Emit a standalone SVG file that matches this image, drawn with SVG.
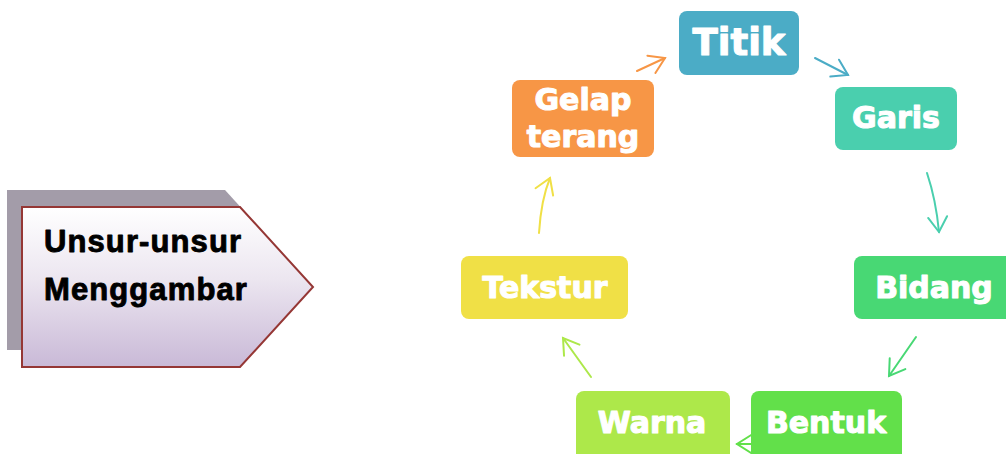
<svg xmlns="http://www.w3.org/2000/svg" width="1006" height="454" viewBox="0 0 1006 454">
<style>
.node text{font-family:"DejaVu Sans",Verdana,sans-serif;font-weight:bold;fill:#fff;stroke:#fff;stroke-width:1.1px;stroke-linejoin:round;text-anchor:middle}
.title{font-family:"Liberation Sans",Arial,sans-serif;font-weight:bold;font-size:31px;letter-spacing:1.1px;fill:#000;stroke:#000;stroke-width:0.9px;stroke-linejoin:round}
.conn path{fill:none;stroke-width:2;stroke-linecap:round}
</style>
<defs>
<linearGradient id="pg" x1="0" y1="0" x2="0" y2="1">
<stop offset="0" stop-color="#ffffff"/>
<stop offset="0.45" stop-color="#ece6f0"/>
<stop offset="1" stop-color="#c9b9d7"/>
</linearGradient>
<marker id="mO" markerUnits="userSpaceOnUse" orient="auto" overflow="visible"><path d="M-15,-9.5 L0,0 L-15,9.5" fill="none" stroke="#f79646" stroke-width="2" stroke-linecap="round"/></marker>
<marker id="mB" markerUnits="userSpaceOnUse" orient="auto" overflow="visible"><path d="M-15,-9.5 L0,0 L-15,9.5" fill="none" stroke="#4bacc6" stroke-width="2" stroke-linecap="round"/></marker>
<marker id="mT" markerUnits="userSpaceOnUse" orient="auto" overflow="visible"><path d="M-15,-9.5 L0,0 L-15,9.5" fill="none" stroke="#4acfae" stroke-width="2" stroke-linecap="round"/></marker>
<marker id="mG" markerUnits="userSpaceOnUse" orient="auto" overflow="visible"><path d="M-15,-9.5 L0,0 L-15,9.5" fill="none" stroke="#48d874" stroke-width="2" stroke-linecap="round"/></marker>
<marker id="mL" markerUnits="userSpaceOnUse" orient="auto" overflow="visible"><path d="M-15,-9.5 L0,0 L-15,9.5" fill="none" stroke="#62e04a" stroke-width="2" stroke-linecap="round"/></marker>
<marker id="mY" markerUnits="userSpaceOnUse" orient="auto" overflow="visible"><path d="M-15,-9.5 L0,0 L-15,9.5" fill="none" stroke="#ade84a" stroke-width="2" stroke-linecap="round"/></marker>
<marker id="mE" markerUnits="userSpaceOnUse" orient="auto" overflow="visible"><path d="M-15,-9.5 L0,0 L-15,9.5" fill="none" stroke="#f0e046" stroke-width="2" stroke-linecap="round"/></marker>
</defs>

<g id="title">
<polygon points="7,190 225,190 298,270 225,350 7,350" fill="#a39ca9"/>
<polygon points="22,207 240,207 313,287 240,367 22,367" fill="url(#pg)" stroke="#953735" stroke-width="2"/>
<text class="title" x="44" y="252">Unsur-unsur</text>
<text class="title" x="44" y="300">Menggambar</text>
</g>

<g id="connectors" class="conn">
<path d="M637,71 L665,58" stroke="#f79646" marker-end="url(#mO)"/>
<path d="M815,58 L848,75" stroke="#4bacc6" marker-end="url(#mB)"/>
<path d="M927,173 Q936,200 939,232" stroke="#4acfae" marker-end="url(#mT)"/>
<path d="M916,337 L889,376" stroke="#48d874" marker-end="url(#mG)"/>
<path d="M760,444 L737,444" stroke="#62e04a" marker-end="url(#mL)"/>
<path d="M591,377 L563,338" stroke="#ade84a" marker-end="url(#mY)"/>
<path d="M539,233 Q541,200 550,178" stroke="#f0e046" marker-end="url(#mE)"/>
</g>

<g id="titik" class="node">
<rect x="679" y="11" width="120" height="64" rx="8" fill="#4bacc6"/>
<text x="739" y="55" font-size="37">Titik</text>
</g>
<g id="garis" class="node">
<rect x="835" y="87" width="122" height="63" rx="8" fill="#4acfae"/>
<text x="896" y="128" font-size="30">Garis</text>
</g>
<g id="bidang" class="node">
<rect x="854" y="256" width="165" height="63" rx="8" fill="#48d874"/>
<text x="934" y="298" font-size="30">Bidang</text>
</g>
<g id="bentuk" class="node">
<rect x="751" y="391" width="151" height="70" rx="8" fill="#62e04a"/>
<text x="826" y="433" font-size="30">Bentuk</text>
</g>
<g id="warna" class="node">
<rect x="576" y="391" width="154" height="70" rx="8" fill="#ade84a"/>
<text x="652" y="433" font-size="30">Warna</text>
</g>
<g id="tekstur" class="node">
<rect x="461" y="256" width="167" height="63" rx="8" fill="#f0e046"/>
<text x="545" y="298" font-size="30">Tekstur</text>
</g>
<g id="gelap-terang" class="node">
<rect x="512" y="80" width="142" height="77" rx="8" fill="#f79646"/>
<text x="583" y="110" font-size="30">Gelap</text>
<text x="583" y="147" font-size="30">terang</text>
</g>
</svg>
